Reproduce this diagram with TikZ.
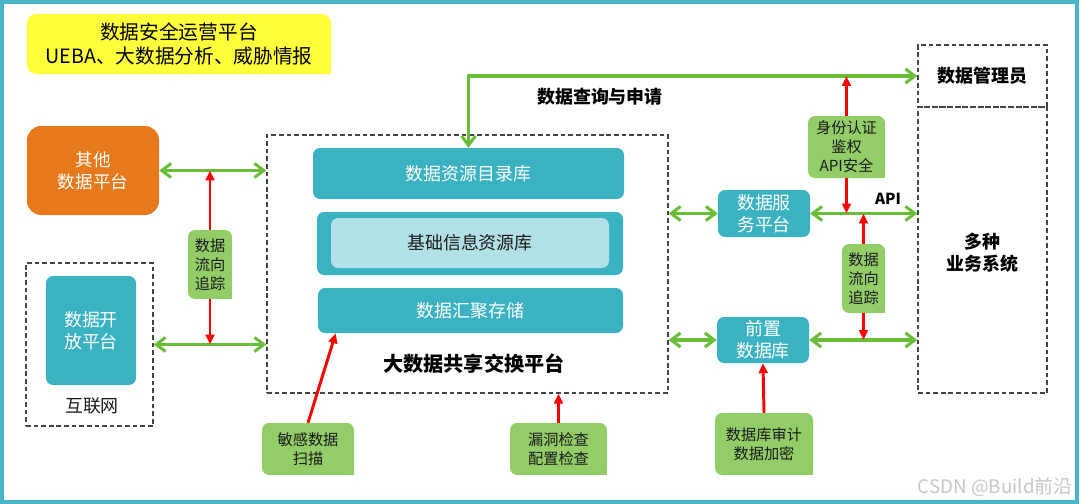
\documentclass[tikz,border=0pt]{standalone}
\usepackage{fontspec}
\setmainfont{Noto Sans CJK SC}
\usetikzlibrary{arrows.meta,calc}

\definecolor{frameteal}{HTML}{48B6C6}
\definecolor{boxteal}{HTML}{3BB2C2}
\definecolor{paleteal}{HTML}{B1E0E6}
\definecolor{orangebox}{HTML}{E6791B}
\definecolor{yellowbox}{HTML}{FFFF3C}
\definecolor{taggreen}{HTML}{92CD67}
\definecolor{linkgreen}{HTML}{6ABD38}
\definecolor{alertred}{HTML}{FF0000}
\definecolor{dashgray}{HTML}{444444}
\definecolor{inktext}{HTML}{1A1A1A}

\begin{document}
\begin{tikzpicture}[x=0.03cm, y=-0.03cm,
  sz/.style 2 args={minimum width=#1*0.03cm, minimum height=#2*0.03cm},
  tealbox/.style={fill=boxteal, rounded corners=6pt, text=white, align=center, inner sep=0pt,
    font=\fontsize{15.3}{18.8}\selectfont},
  zone/.style={draw=dashgray, line width=1.1pt, dash pattern=on 4pt off 2.5pt, inner sep=0pt},
  tag/.style={fill=taggreen, rounded corners=6pt, text=inktext, align=center, inner sep=0pt,
    font=\fontsize{13}{16.2}\selectfont},
  heading/.style={font=\bfseries\fontsize{15.3}{18.8}\selectfont, text=black, align=center},
  link/.style={draw=linkgreen, line width=2.6pt, >={Straight Barb[length=8pt,width=12pt]}},
  guard/.style={draw=alertred, line width=2.5pt, >={Triangle[length=8.5pt,width=7.5pt]}}]

\useasboundingbox (0,0) rectangle (1080,504);

% outer frame
\draw[frameteal, line width=3.4pt] (2,2) rectangle (1077,502);

% security operations
\node[fill=yellowbox, rounded corners=8pt, sz={304}{60}, align=center, inner sep=0pt,
  font=\fontsize{16.8}{21}\selectfont] (ops) at (179,44)
  {数据安全运营平台\\UEBA、大数据分析、威胁情报};
\fill[yellowbox] (ops.south east) rectangle ++(-9pt,9pt);

% left side
\node[tealbox, fill=orangebox, rounded corners=12pt, sz={132}{89},
  font=\fontsize{15}{19}\selectfont] (otherplat) at (93,170.5) {其他\\数据平台};
\node[zone, sz={127}{163}] (netzone) at (89.5,344.5) {};
\node[tealbox, sz={90}{109}] (openplat) at (91,330.5) {数据开\\放平台};
\node[font=\fontsize{15.3}{18}\selectfont, text=inktext] (netlabel) at (92,406) {互联网};

% exchange platform
\node[zone, sz={401}{258}] (exchange) at (467.5,264) {};
\node[tealbox, sz={311}{51}] (catalog) at (468.5,173.5) {数据资源目录库};
\node[fill=boxteal, rounded corners=6pt, sz={306}{63}] (basewrap) at (470,243.5) {};
\node[tealbox, fill=paleteal, text=inktext, sz={278}{50}] (baseinfo) at (470,243) {基础信息资源库};
\node[tealbox, sz={305}{45}] (storage) at (470.5,310.5) {数据汇聚存储};
\node[heading, font=\bfseries\fontsize{17.2}{20}\selectfont] (exlabel) at (474,364) {大数据共享交换平台};

% right side
\node[tealbox, sz={92}{47}] (service) at (764,213.5) {数据服\\务平台};
\node[tealbox, sz={92}{46}] (frontdb) at (763,340) {前置\\数据库};
\node[zone, sz={129}{62}] (admin) at (982.5,76) {};
\node[heading] at (admin) {数据管理员};
\node[zone, sz={129}{286}] (bizsys) at (982.5,250) {};
\node[heading, yshift=-2pt] at (bizsys) {多种\\业务系统};
\node[heading] (querylabel) at (600,97) {数据查询与申请};
\node[heading, font=\bfseries\fontsize{13}{15}\selectfont] (apilabel) at (888,199) {API};

% security tags
\node[tag, sz={44}{69}] (tracel) at (210,264.5) {数据\\流向\\追踪};
\node[tag, sz={77}{62}] (authtag) at (846.5,147) {身份认证\\鉴权\\API安全};
\node[tag, sz={43}{69}] (tracer) at (863.5,278.5) {数据\\流向\\追踪};
\node[tag, sz={92}{52}] (scantag) at (308,449) {敏感数据\\扫描};
\node[tag, sz={97}{52}] (vulntag) at (558.5,449) {漏洞检查\\配置检查};
\node[tag, sz={98}{62}] (audittag) at (764,444) {数据库审计\\数据加密};
\foreach \t in {tracel,authtag,tracer,scantag,vulntag,audittag}
  \fill[taggreen] (\t.south east) rectangle ++(-8pt,8pt);

% data links
\draw[link,<->] (otherplat.east) -- (otherplat.east -| exchange.west);
\draw[link,<->] (netzone.east) -- (netzone.east -| exchange.west);
\draw[link,<->] (catalog.north) |- (admin.west);
\draw[link,<->] (exchange.east |- service) -- (service.west);
\draw[link,<->] (service.east) -- (service.east -| bizsys.west);
\draw[link,<->] (exchange.east |- frontdb) -- (frontdb.west);
\draw[link,<->] (frontdb.east) -- (frontdb.east -| bizsys.west);

% security checks
\draw[guard,->] (tracel.north) -- (tracel.north |- otherplat.east);
\draw[guard,->] (tracel.south) -- (tracel.south |- netzone.east);
\draw[guard,->] (authtag.north) -- (authtag.north |- admin.west);
\draw[guard,->] (authtag.south) -- (authtag.south |- service.east);
\draw[guard,->] (tracer.north) -- (tracer.north |- service.east);
\draw[guard,->] (tracer.south) -- (tracer.south |- frontdb.east);
\draw[guard,->] (scantag.north) -- ($(storage.south west)+(18,0)$);
\draw[guard,->] (vulntag.north) -- (vulntag.north |- exchange.south);
\draw[guard,->] (audittag.north) -- (frontdb.south);

\node[text=black!22, font=\fontsize{16}{18}\selectfont] (watermark) at (995,487) {CSDN @Build前沿};

\end{tikzpicture}
\end{document}
